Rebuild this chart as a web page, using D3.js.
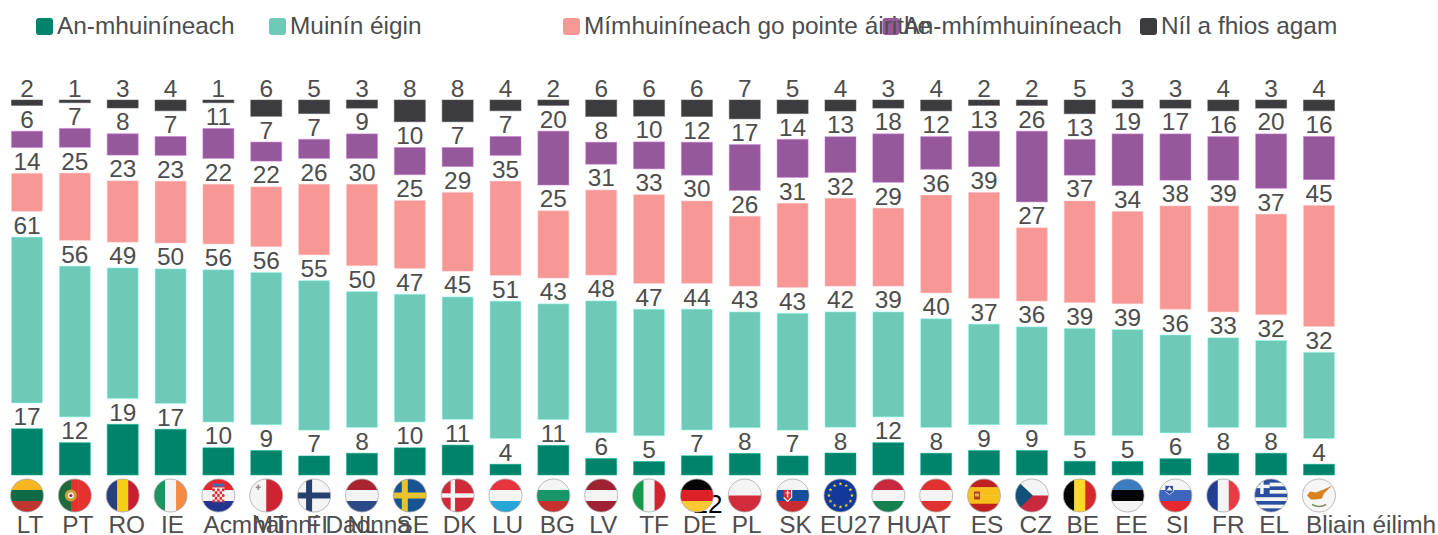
<!DOCTYPE html>
<html>
<head>
<meta charset="utf-8">
<script src="https://cdn.jsdelivr.net/npm/d3@7"></script>
<style>
  body { margin: 0; background: #fff; }
  text { font-family: "Liberation Sans", Arial, sans-serif; }
</style>
</head>
<body>
<svg id="chart"></svg>
<script>
// chart data
const codes = ['LT','PT','RO','IE','HR','MT','FI','NL','SE','DK','LU','BG','LV','IT','DE','PL','SK','EU27','HU','AT','ES','CZ','BE','EE','SI','FR','EL','CY'];
const tickLabels = ['LT','PT','RO','IE','Acmhainní Daonna','MT','FI','NL','SE','DK','LU','BG','LV','TF','DE','PL','SK','EU27','HU','AT','ES','CZ','BE','EE','SI','FR','EL','Bliain éilimh'];
const seriesNames = ['An-mhuiníneach','Muinín éigin','Mímhuiníneach go pointe áirithe','An-mhímhuiníneach','Níl a fhios agam'];
const verySure = [17,12,19,17,10,9,7,8,10,11,4,11,6,5,7,8,7,8,12,8,9,9,5,5,6,8,8,4];
const fairlySure = [61,56,49,50,56,56,55,50,47,45,51,43,48,47,44,43,43,42,39,40,37,36,39,39,36,33,32,32];
const fairlyUnsure = [14,25,23,23,22,22,26,30,25,29,35,25,31,33,30,26,31,32,29,36,39,27,37,34,38,39,37,45];
const veryUnsure = [6,7,8,7,11,7,7,9,10,7,7,20,8,10,12,17,14,13,18,12,13,26,13,19,17,16,20,16];
const dontKnow = [2,1,3,4,1,6,5,3,8,8,4,2,6,6,6,7,5,4,3,4,2,2,5,3,3,4,3,4];
const seriesValues = [verySure, fairlySure, fairlyUnsure, veryUnsure, dontKnow];

const colors = ['#00836b','#6ec9b6','#f79796','#94589b','#3c3c3e'];
const textColor = '#4d4d4d';

const global_width = 1438,
  global_height = 535;
const baseline = 475,
  barSpan = 272,   // height of the 100% stack without the gaps
  gap = 25.75,     // white room for the value labels
  flagY = 495.5,
  flagR = 16.5,
  fontSize = 24.4;

// legend layout, squares and text do overlap in the original
const legendX = [36, 269, 563, 882.5, 1140];

// tick labels are not quite centred below the flags
const tickDx = {NL:1,DK:2,LU:2,LV:2,BG:4,TF:5,FR:5,CZ:4,EE:4,RO:4,MT:4,PL:2,IE:2,SI:2,EU27:10,HU:16,AT:0};
const startAnchored = {HR:-15, CY:-13};

const svg = d3.select('#chart')
  .attr('width', global_width)
  .attr('height', global_height);

const rows = codes.map((code, i) => {
  const row = {code: code};
  seriesNames.forEach((name, s) => { row[name] = seriesValues[s][i]; });
  return row;
});

// some countries sum to 99 or 101, the bars all end at the same height
const stacked = d3.stack().keys(seriesNames).offset(d3.stackOffsetExpand)(rows);

const xScale = d3.scaleBand()
  .domain(codes)
  .range([3.07, 1342.9])
  .paddingInner(0.352)
  .paddingOuter(0.176);
const yScale = d3.scaleLinear().domain([0, 1]).range([baseline, baseline - barSpan]);

//Legend
const legend = svg.append('g').attr('id', 'legend');
legend.selectAll('rect')
  .data(seriesNames)
  .enter()
  .append('rect')
  .attr('x', (d, i) => legendX[i])
  .attr('y', 18)
  .attr('width', 17)
  .attr('height', 17)
  .attr('rx', 3)
  .attr('fill', (d, i) => colors[i]);
legend.selectAll('text')
  .data(seriesNames)
  .enter()
  .append('text')
  .attr('x', (d, i) => legendX[i] + 21)
  .attr('y', 34)
  .attr('font-size', fontSize)
  .attr('fill', textColor)
  .text(d => d);

//Bars
const plot = svg.append('g').attr('id', 'plot');
stacked.forEach((layer, s) => {
  const g = plot.append('g').attr('id', 'series-' + s);
  const segTop = d => yScale(d[1]) - s * gap;
  const segBottom = d => yScale(d[0]) - s * gap;

  g.selectAll('rect')
    .data(layer)
    .enter()
    .append('rect')
    .attr('x', d => xScale(d.data.code))
    .attr('y', segTop)
    .attr('width', xScale.bandwidth())
    .attr('height', d => segBottom(d) - segTop(d))
    .attr('fill', colors[s])
    .attr('stroke', d3.color(colors[s]).brighter(0.9))
    .attr('stroke-opacity', 0.5);

  g.selectAll('text')
    .data(layer)
    .enter()
    .append('text')
    .attr('x', d => xScale(d.data.code) + xScale.bandwidth() / 2)
    .attr('y', d => segTop(d) - 3.5)
    .attr('text-anchor', 'middle')
    .attr('font-size', fontSize)
    .attr('fill', textColor)
    .text((d, i) => seriesValues[s][i]);
});

// stray label that sits behind the german flag
svg.append('text')
  .attr('x', xScale('DE') + xScale.bandwidth() / 2 + 11)
  .attr('y', 513)
  .attr('text-anchor', 'middle')
  .attr('font-size', 26)
  .attr('fill', '#000')
  .text('22');

//Flags
const white = '#f4f4f4';
const flagStripes = {
  LT: ['h', ['#f7b61f','#0f6b46','#bf3630']],
  PT: ['v', ['#1d6b3a','#1d6b3a','#e5322d','#e5322d','#e5322d']],
  RO: ['v', ['#2a3f7f','#f4cf14','#c81f2f']],
  IE: ['v', ['#1f9460',white,'#f58a42']],
  HR: ['h', ['#e8262b',white,'#24358f']],
  MT: ['v', [white,'#cf2233']],
  FI: ['h', [white]],
  NL: ['h', ['#a8242e',white,'#2a4a8a']],
  SE: ['h', ['#165494']],
  DK: ['h', ['#cf2a3a']],
  LU: ['h', ['#e8343c',white,'#27a5d8']],
  BG: ['h', [white,'#17966a','#c8302d']],
  LV: ['h', ['#9f2233',white,'#9f2233']],
  IT: ['v', ['#159a4d',white,'#d4222e']],
  DE: ['h', ['#050505','#dd2127','#fdc933']],
  PL: ['h', [white,'#d22b3c']],
  SK: ['h', [white,'#144f9b','#c92c30']],
  EU27: ['h', ['#10399b']],
  HU: ['h', ['#c9283e',white,'#14804f']],
  AT: ['h', ['#e0312e',white,'#e0312e']],
  ES: ['h', ['#c0201f','#f6bf1a','#f6bf1a','#c0201f']],
  CZ: ['h', [white,'#c9283e']],
  BE: ['v', ['#050505','#fdd92a','#d9272e']],
  EE: ['h', ['#3c7cc0','#050505',white]],
  SI: ['h', [white,'#3f66bd','#e7282d']],
  FR: ['v', ['#243f90',white,'#ec3a45']],
  EL: ['h', ['#2a4fa0',white,'#2a4fa0',white,'#2a4fa0',white,'#2a4fa0',white,'#2a4fa0']],
  CY: ['h', ['#f6f6f6']]
};

const box = (g, x, y, w, h, fill) => g.append('rect')
  .attr('x', x).attr('y', y).attr('width', w).attr('height', h).attr('fill', fill);
const dot = (g, x, y, r, fill) => g.append('circle')
  .attr('cx', x).attr('cy', y).attr('r', r).attr('fill', fill);

// the small details on top of the stripes
const flagExtras = {
  PT: g => { dot(g, -4, 0, 6, '#c9a23a'); dot(g, -4, 0, 3, white); dot(g, -4, 0, 1.6, '#b3262a'); },
  HR: g => {
    box(g, -6, -12, 12, 3, '#3d6fb5');
    box(g, -6, -8, 12, 14, white);
    for (let a = 0; a < 5; a++) {
      for (let b = 0; b < 5; b++) {
        if ((a + b) % 2 === 0) box(g, -6 + a * 2.4, -7 + b * 2.8, 2.4, 2.8, '#e8262b');
      }
    }
  },
  MT: g => { box(g, -10.5, -9, 5, 1.6, '#9a8f8f'); box(g, -8.8, -11, 1.6, 5.5, '#9a8f8f'); },
  FI: g => { box(g, -17, -3, 34, 6, '#28406f'); box(g, -8, -17, 6, 34, '#28406f'); },
  SE: g => { box(g, -17, -3, 34, 6, '#eac12f'); box(g, -8, -17, 6, 34, '#eac12f'); },
  DK: g => { box(g, -17, -2.2, 34, 4.4, white); box(g, -7, -17, 4.4, 34, white); },
  SK: g => {
    g.append('path').attr('d', d3.line()([[-9,-6],[-1,-6],[-1,2],[-5,6],[-9,2]]))
      .attr('fill', '#d3303a').attr('stroke', white).attr('stroke-width', 1.2);
    box(g, -5.6, -5, 1.2, 7, white);
    box(g, -7.2, -3, 4.4, 1, white);
  },
  EU27: g => {
    const star = d3.symbol(d3.symbolStar, 5);
    d3.range(12).forEach(i => {
      const a = i * Math.PI / 6;
      g.append('path').attr('d', star)
        .attr('transform', 'translate(' + 11.5 * Math.sin(a) + ',' + (-11.5 * Math.cos(a)) + ')')
        .attr('fill', '#f7d21c');
    });
  },
  ES: g => { box(g, -10, -4, 6, 8, '#b0402a'); box(g, -9, -2, 4, 3, '#e9b04a'); },
  CZ: g => {
    g.append('path').attr('d', d3.line()([[-17,-17],[1,0],[-17,17]])).attr('fill', '#11517a');
  },
  SI: g => {
    g.append('path').attr('d', d3.line()([[-10,-10],[-2,-10],[-2,-4],[-6,-1],[-10,-4]]))
      .attr('fill', '#2a4fa0').attr('stroke', white).attr('stroke-width', 0.8);
    g.append('path').attr('d', d3.line()([[-9,-5],[-6,-9],[-3,-5]])).attr('fill', white);
  },
  EL: g => {
    box(g, -17, -17, 15.5, 15.5, '#2a4fa0');
    box(g, -17, -10.8, 15.5, 3.4, white);
    box(g, -10.9, -17, 3.4, 15.5, white);
  },
  CY: g => {
    g.append('path')
      .attr('d', 'M-12,0 L-9,-4 L-3,-3 L2,-5 L7,-7 L13,-10 L8,-5 L5,-2 L3,3 L-3,4 L-8,4 Z')
      .attr('fill', '#d9801f');
    g.append('path').attr('d', 'M-7,9 Q0,13 7,9').attr('fill', 'none')
      .attr('stroke', '#7f8f5a').attr('stroke-width', 1.6);
  }
};

const defs = svg.append('defs');
defs.append('clipPath').attr('id', 'flag-clip')
  .append('circle').attr('r', flagR);

const flags = svg.append('g').attr('id', 'flags');
codes.forEach(code => {
  const cell = flags.append('g')
    .attr('transform', 'translate(' + (xScale(code) + xScale.bandwidth() / 2) + ',' + flagY + ')');
  const g = cell.append('g').attr('clip-path', 'url(#flag-clip)');
  const dir = flagStripes[code][0],
    stripes = flagStripes[code][1];
  const size = 2 * flagR;
  stripes.forEach((c, i) => {
    const w = size / stripes.length;
    if (dir === 'h') box(g, -flagR, -flagR + i * w, size, w + 0.3, c);
    else box(g, -flagR + i * w, -flagR, w + 0.3, size, c);
  });
  if (flagExtras[code]) flagExtras[code](g);
  cell.append('circle')
    .attr('r', flagR)
    .attr('fill', 'none')
    .attr('stroke', '#a9a9a9')
    .attr('stroke-width', 0.8);
});

//X axis labels
const xAxis = d3.axisBottom(xScale)
  .tickSize(0)
  .tickPadding(0)
  .tickFormat((d, i) => tickLabels[i]);

const axisG = svg.append('g')
  .attr('id', 'x-axis')
  .attr('transform', 'translate(0,515)')
  .call(xAxis);
axisG.select('.domain').remove();
axisG.selectAll('text')
  .attr('y', 18)
  .attr('dy', 0)
  .attr('font-size', fontSize)
  .attr('fill', textColor)
  .attr('text-anchor', d => startAnchored[d] !== undefined ? 'start' : 'middle')
  .attr('x', d => {
    if (startAnchored[d] !== undefined) return startAnchored[d];
    const label = tickLabels[codes.indexOf(d)];
    return tickDx[label] !== undefined ? tickDx[label] : 3;
  });
</script>
</body>
</html>
